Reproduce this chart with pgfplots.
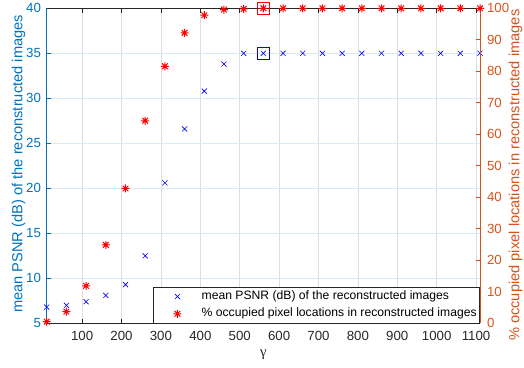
\documentclass[border=0pt]{standalone}
\usepackage{fontspec}
\setmainfont{Liberation Sans}
\newfontfamily\gfont{Liberation Serif}
\usepackage{pgfplots}
\pgfplotsset{compat=1.18}
\definecolor{matblue}{RGB}{0,114,189}
\definecolor{matorange}{RGB}{217,83,25}
\definecolor{darkax}{RGB}{38,38,38}
\definecolor{gridgray}{RGB}{222,222,222}
\definecolor{gridblue}{RGB}{217,234,245}
\definecolor{pblue}{RGB}{0,0,255}
\definecolor{pred}{RGB}{255,0,0}
\pgfdeclareplotmark{mstar}{%
 \pgfpathmoveto{\pgfqpoint{-\pgfplotmarksize}{0pt}}\pgfpathlineto{\pgfqpoint{\pgfplotmarksize}{0pt}}%
 \pgfpathmoveto{\pgfqpoint{0pt}{-\pgfplotmarksize}}\pgfpathlineto{\pgfqpoint{0pt}{\pgfplotmarksize}}%
 \pgfpathmoveto{\pgfqpoint{-.7071\pgfplotmarksize}{-.7071\pgfplotmarksize}}\pgfpathlineto{\pgfqpoint{.7071\pgfplotmarksize}{.7071\pgfplotmarksize}}%
 \pgfpathmoveto{\pgfqpoint{-.7071\pgfplotmarksize}{.7071\pgfplotmarksize}}\pgfpathlineto{\pgfqpoint{.7071\pgfplotmarksize}{-.7071\pgfplotmarksize}}%
 \pgfusepathqstroke}
\pgfdeclareplotmark{mbox}{%
 \pgfpathrectangle{\pgfqpoint{-\pgfplotmarksize}{-\pgfplotmarksize}}{\pgfqpoint{2\pgfplotmarksize}{2\pgfplotmarksize}}%
 \pgfusepathqstroke}
\pgfplotstableread{
x psnr occ
10 6.8 0.5
60 7.0 3.7
110 7.4 11.9
160 8.1 24.9
210 9.3 42.8
260 12.5 64.3
310 20.6 81.6
360 26.6 92.2
410 30.8 97.8
460 33.8 99.6
510 35.0 99.8
560 35.0 100
610 35.0 100
660 35.0 100
710 35.0 100
760 35.0 100
810 35.0 100
860 35.0 100
910 35.0 100
960 35.0 100
1010 35.0 100
1060 35.0 100
1110 35.0 100
}\datatable
\begin{document}
\begin{tikzpicture}
\pgfplotsset{
  base/.style={
    width=433.3bp, height=315bp, scale only axis,
    xmin=10, xmax=1110,
    /pgf/number format/assume math mode=true,
    /pgf/number format/1000 sep={},
    tick label style={font=\fontsize{13.3}{16}\selectfont},
    label style={font=\fontsize{14.7}{17}\selectfont},
    tick align=inside, major tick length=4.3bp,
  }
}
\begin{axis}[base,
  ymin=5, ymax=40, ytick={5,10,...,40},
  xtick={100,200,...,1100},
  axis x line*=box, axis y line*=left,
  xtick pos=both,
  x axis line style={draw=darkax, line width=0.6bp},
  y axis line style={draw=matblue, line width=0.6bp},
  xtick style={draw=darkax, line width=0.6bp},
  ytick style={draw=matblue, line width=0.6bp},
  xticklabel style={color=darkax, yshift=-4.3bp},
  yticklabel style={color=matblue, xshift=-2.3bp},
  xmajorgrids, ymajorgrids,
  x grid style={draw=gridgray, line width=0.5bp},
  y grid style={draw=gridblue, line width=0.5bp},
  xlabel={{\gfont γ}},
  xlabel style={at={(axis description cs:0.5,0)}, anchor=north, yshift=-23bp, color=darkax},
  ylabel={mean PSNR (dB) of the reconstructed images},
  ylabel style={at={(axis description cs:-0.0651,0.506)}, anchor=center, color=matblue},
  clip=false,
]
\addplot[only marks, mark=x, mark size=3.6bp, color=pblue, mark options={color=pblue, line width=0.6bp}] table[x=x, y=psnr] {\datatable};
\addplot[only marks, mark=mbox, mark size=6bp, draw=pblue, mark options={draw=pblue, line width=1.1bp}] coordinates {(560,35.0)};
\end{axis}
\begin{axis}[base,
  ymin=0, ymax=100, ytick={0,10,...,100},
  axis x line=none, axis y line*=right,
  y axis line style={draw=matorange, line width=0.6bp},
  ytick style={draw=matorange, line width=0.6bp},
  yticklabel style={color=matorange, xshift=3.6bp},
  ylabel={\% occupied pixel locations in reconstructed images},
  ylabel style={at={(axis description cs:1.082,0.47)}, anchor=center, color=matorange},
  clip=false,
  legend style={at={(1,0)}, anchor=south east, draw=darkax, line width=0.6bp, fill=white,
    font=\fontsize{12.2}{14}\selectfont, inner xsep=0pt, inner ysep=0.5bp,
    nodes={inner xsep=3bp, inner ysep=3bp, text height=8.6bp, text depth=2.7bp, anchor=west, text=black},
    row sep=0pt},
  legend cell align=left,
  legend image code/.code={\draw[#1] plot coordinates {(24bp,0bp)}; \path (0bp,0bp) (45bp,0bp);},
]
\addlegendimage{only marks, mark=x, mark size=3.6bp, color=pblue, mark options={color=pblue, line width=0.6bp}}
\addlegendentry{mean PSNR (dB) of the reconstructed images}
\addplot[only marks, mark=mstar, mark size=4bp, color=pred, mark options={color=pred, line width=1bp}] table[x=x, y=occ] {\datatable};
\addlegendentry{\% occupied pixel locations in reconstructed images}
\addplot[only marks, mark=mbox, mark size=6bp, draw=pred, mark options={draw=pred, line width=1.1bp}, forget plot] coordinates {(560,100)};
\end{axis}
\pgfresetboundingbox
\path[use as bounding box] (-46.7bp,-44.7bp) rectangle (477.3bp,323.3bp);
\end{tikzpicture}
\end{document}
